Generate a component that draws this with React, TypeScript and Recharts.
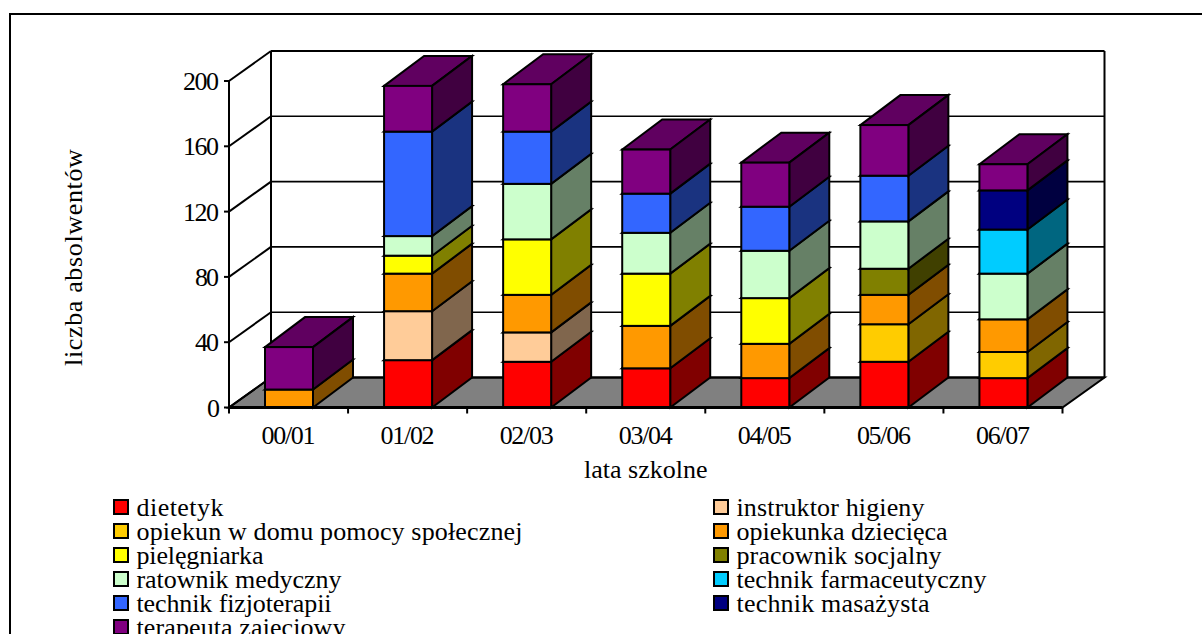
import React from "react";
import { BarChart, Bar, XAxis, YAxis, CartesianGrid, Legend, Label } from "recharts";

const categories = ["00/01", "01/02", "02/03", "03/04", "04/05", "05/06", "06/07"];
const dietetyk = [0, 29, 28, 24, 18, 28, 18];
const instruktorHigieny = [0, 30, 18, 0, 0, 0, 0];
const opiekunDps = [0, 0, 0, 0, 0, 23, 16];
const opiekunkaDziecieca = [11, 23, 23, 26, 21, 18, 20];
const pielegniarka = [0, 11, 34, 32, 28, 0, 0];
const pracownikSocjalny = [0, 0, 0, 0, 0, 16, 0];
const ratownikMedyczny = [0, 12, 34, 25, 29, 29, 28];
const technikFarmaceutyczny = [0, 0, 0, 0, 0, 0, 27];
const technikFizjoterapii = [0, 64, 32, 24, 27, 28, 0];
const technikMasazysta = [0, 0, 0, 0, 0, 0, 24];
const terapeutaZajeciowy = [26, 28, 29, 27, 27, 31, 16];
const yTicks = [0, 40, 80, 120, 160, 200];

const seriesNames = [
  "dietetyk", "instruktor higieny", "opiekun w domu pomocy społecznej", "opiekunka dziecięca",
  "pielęgniarka", "pracownik socjalny", "ratownik medyczny", "technik farmaceutyczny",
  "technik fizjoterapii", "technik masażysta", "terapeuta zajęciowy",
];
const seriesValues = [
  dietetyk, instruktorHigieny, opiekunDps, opiekunkaDziecieca, pielegniarka, pracownikSocjalny,
  ratownikMedyczny, technikFarmaceutyczny, technikFizjoterapii, technikMasazysta, terapeutaZajeciowy,
];
const seriesColors = [
  "#FF0000", "#FFCC99", "#FFCC00", "#FF9900", "#FFFF00", "#808000",
  "#CCFFCC", "#00CCFF", "#3366FF", "#000080", "#800080",
];
// Rendered width of each legend text in the picture.
const legendTextWidths = [87, 188, 386, 211, 127, 205, 205, 250, 195, 193, 209];

const rows = categories.map((category, i) => {
  const row: Record<string, string | number> = { category };
  seriesNames.forEach((name, s) => { row[name] = seriesValues[s][i]; });
  return row;
});

const FONT = "'Liberation Serif', serif";
const FONT_SIZE = 26;
const W = 1202, H = 634;
const PLOT_LEFT = 229, PLOT_TOP = 81, PLOT_BOTTOM = 407.5, PLOT_RIGHT = 1062.5;
const WALL_DX = 42, WALL_DY = 30;
const BAR_DX = 40, BAR_DY = 30;
const BAND = (PLOT_RIGHT - PLOT_LEFT) / categories.length;

function shade(hex: string, k: number) {
  const n = parseInt(hex.slice(1), 16);
  const f = (v: number) => Math.round(v * k);
  return `rgb(${f((n >> 16) & 255)},${f((n >> 8) & 255)},${f(n & 255)})`;
}

function Box3D(props: any) {
  const { x, y, width, height, fill } = props;
  if (!height || height <= 0) return null;
  const common = { stroke: "#000", strokeWidth: 2, strokeLinejoin: "miter" as const };
  return (
    <g>
      <polygon points={`${x},${y} ${x + BAR_DX},${y - BAR_DY} ${x + width + BAR_DX},${y - BAR_DY} ${x + width},${y}`} fill={shade(fill, 0.75)} {...common} />
      <polygon points={`${x + width},${y} ${x + width + BAR_DX},${y - BAR_DY} ${x + width + BAR_DX},${y + height - BAR_DY} ${x + width},${y + height}`} fill={shade(fill, 0.5)} {...common} />
      <rect x={x} y={y} width={width} height={height} fill={fill} {...common} />
    </g>
  );
}

function wallLine(p: any) {
  const { x1, x2, y1, index } = p;
  const isFloor = Math.abs(y1 - PLOT_BOTTOM) < 1;
  const isTop = Math.abs(y1 - PLOT_TOP) < 1;
  const backY = y1 - WALL_DY;
  return (
    <g key={`wall-${index}`}>
      {isFloor && (
        <polygon
          points={`${x1},${y1} ${x2},${y1} ${x2 + WALL_DX},${backY} ${x1 + WALL_DX},${backY}`}
          fill="#808080" stroke="#000" strokeWidth={2}
        />
      )}
      {isTop && (
        <>
          <line x1={x1 + WALL_DX} x2={x1 + WALL_DX} y1={backY} y2={PLOT_BOTTOM - WALL_DY} stroke="#000" strokeWidth={2} />
          <line x1={x2 + WALL_DX} x2={x2 + WALL_DX} y1={backY} y2={PLOT_BOTTOM - WALL_DY} stroke="#000" strokeWidth={2} />
        </>
      )}
      <line x1={x1} y1={y1} x2={x1 + WALL_DX} y2={backY} stroke="#000" strokeWidth={2} />
      <line x1={x1 + WALL_DX} y1={backY} x2={x2 + WALL_DX} y2={backY} stroke="#000" strokeWidth={isTop || isFloor ? 2 : 1.6} />
    </g>
  );
}

function CategoryTick(props: any) {
  const { x, payload, index } = props;
  const isLast = index === categories.length - 1;
  return (
    <g>
      <line x1={x - BAND / 2} x2={x - BAND / 2} y1={PLOT_BOTTOM} y2={PLOT_BOTTOM + 6} stroke="#000" strokeWidth={2} />
      {isLast && <line x1={x + BAND / 2} x2={x + BAND / 2} y1={PLOT_BOTTOM} y2={PLOT_BOTTOM + 6} stroke="#000" strokeWidth={2} />}
      <text x={x} y={PLOT_BOTTOM + 36.5} textAnchor="middle" fontFamily={FONT} fontSize={FONT_SIZE} fill="#000" textLength={54} lengthAdjust="spacing">{payload.value}</text>
    </g>
  );
}

function ValueTick(props: any) {
  const { x, y, payload } = props;
  const digits = String(payload.value).length;
  return (
    <text x={x - digits * 12} y={y + 9} fontFamily={FONT} fontSize={FONT_SIZE} fill="#000" textLength={digits * 12} lengthAdjust="spacing">{payload.value}</text>
  );
}

function LegendBlock(props: any) {
  const items = props.payload || [];
  return (
    <svg width={W} height={H} style={{ position: "absolute", left: 0, top: 0, overflow: "hidden" }}>
      {items.map((it: any, i: number) => {
        const col = i % 2;
        const row = Math.floor(i / 2);
        const left = col === 0 ? 114 : 714;
        const top = 500 + row * 24;
        return (
          <g key={it.value}>
            <rect x={left} y={top} width={14} height={14} fill={it.color} stroke="#000" strokeWidth={2} />
            <text x={left + 22.5} y={top + 16} fontFamily={FONT} fontSize={FONT_SIZE} fill="#000" textLength={legendTextWidths[i]} lengthAdjust="spacing">{it.value}</text>
          </g>
        );
      })}
    </svg>
  );
}

export default function App() {
  return (
    <div style={{ position: "absolute", left: 0, top: 0, width: W, height: H, overflow: "hidden", background: "#fff" }}>
      <div style={{ position: "absolute", left: 9, top: 13, right: 0, bottom: 0, borderLeft: "2px solid #000", borderTop: "2px solid #000" }} />
      <div style={{ position: "absolute", left: 0, top: 0 }}>
        <BarChart
          width={W}
          height={H}
          data={rows}
          barSize={48}
          margin={{ top: PLOT_TOP, left: 169, right: W - PLOT_RIGHT, bottom: H - PLOT_BOTTOM - 70 }}
          style={{ fontFamily: FONT }}
        >
          <CartesianGrid horizontal={wallLine as any} vertical={false} />
          <XAxis
            dataKey="category"
            height={70}
            interval={0}
            tick={CategoryTick as any}
            tickLine={false}
            axisLine={{ stroke: "#000", strokeWidth: 3 }}
          >
            <Label value="lata szkolne" position="insideBottom" offset={0} fontSize={FONT_SIZE} fontFamily={FONT} fill="#000" />
          </XAxis>
          <YAxis
            width={60}
            domain={[0, 200]}
            ticks={yTicks}
            interval={0}
            tick={ValueTick as any}
            tickSize={5}
            tickMargin={5}
            tickLine={{ stroke: "#000", strokeWidth: 2 }}
            axisLine={{ stroke: "#000", strokeWidth: 2 }}
            label={{ value: "liczba absolwentów", angle: -90, position: "insideLeft", dx: -101, dy: 13, fontSize: FONT_SIZE, fontFamily: FONT, fill: "#000", style: { textAnchor: "middle", letterSpacing: 0.65 } }}
          />
          <Legend
            layout="vertical"
            align="center"
            verticalAlign="middle"
            itemSorter={null as any}
            content={LegendBlock as any}
            wrapperStyle={{ left: 0, top: 0, width: W, height: 0 }}
          />
          {seriesNames.map((name, i) => (
            <Bar key={name} dataKey={name} name={name} stackId="a" fill={seriesColors[i]} shape={Box3D as any} isAnimationActive={false} />
          ))}
        </BarChart>
      </div>
    </div>
  );
}
